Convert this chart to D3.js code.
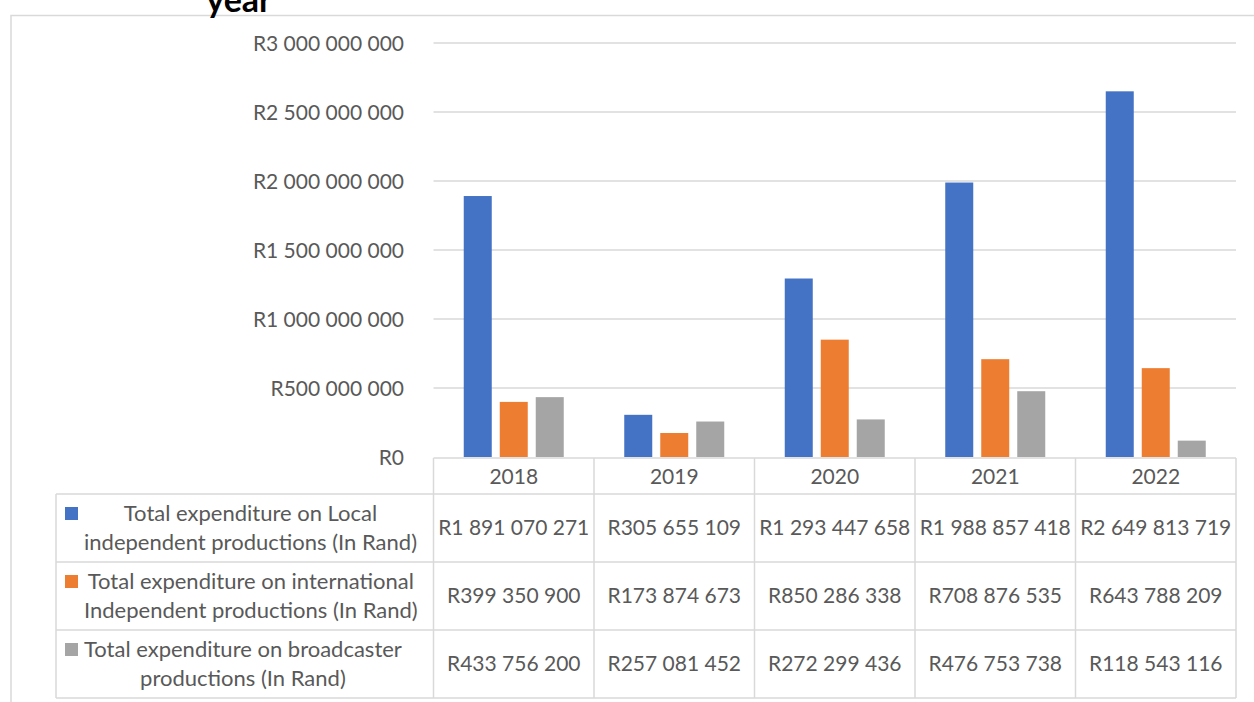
<!DOCTYPE html>
<html>
<head>
<meta charset="utf-8">
<script src="https://cdn.jsdelivr.net/npm/d3@7"></script>
<style>
  html, body { margin: 0; padding: 0; background: #fff; }
  svg { display: block; }
  text { font-family: Lato, "Open Sans", sans-serif; }
</style>
</head>
<body>
<svg id="chart" width="1254" height="702"></svg>
<script>
// ---- Data ----
const years = ["2018", "2019", "2020", "2021", "2022"];
const seriesNames = [
  ["Total expenditure on Local", "independent productions (In Rand)"],
  ["Total expenditure on international", "Independent productions (In Rand)"],
  ["Total expenditure on broadcaster", "productions (In Rand)"]
];
const localValues = [1891070271, 305655109, 1293447658, 1988857418, 2649813719];
const internationalValues = [399350900, 173874673, 850286338, 708876535, 643788209];
const broadcasterValues = [433756200, 257081452, 272299436, 476753738, 118543116];
const yTicks = [0, 500000000, 1000000000, 1500000000, 2000000000, 2500000000, 3000000000];
const seriesColors = ["#4472C4", "#ED7D31", "#A5A5A5"];
const titleText = "year";

const series = [localValues, internationalValues, broadcasterValues];

// ---- Layout ----
const svg = d3.select("#chart");
const plotLeft = 433.5, plotRight = 1236;
const yZero = 457, yTop = 43;
const tableLeft = 56;
const headerBottom = 494;
const rowH = 68;
const textColor = "#595959";
const lineColor = "#d9d9d9";
const fs = 21;
const legendFs = 22;

const fmt = v => "R" + d3.format(",")(v).replace(/,/g, " ");

// outer border
svg.append("path")
  .attr("d", `M11,702 V15.5 H1254`)
  .attr("fill", "none").attr("stroke", lineColor).attr("stroke-width", 1.5);

// title (partially visible, as in the reference)
svg.append("text")
  .attr("x", 239).attr("y", 12)
  .attr("text-anchor", "middle")
  .attr("font-size", 34).attr("font-weight", "bold")
  .attr("fill", "#000")
  .text(titleText);

const x = d3.scaleBand().domain(years).range([plotLeft, plotRight]).padding(0);
const y = d3.scaleLinear().domain([0, 3000000000]).range([yZero, yTop]);

// gridlines
svg.append("g").selectAll("line").data(yTicks.slice(1)).join("line")
  .attr("x1", plotLeft).attr("x2", plotRight)
  .attr("y1", d => y(d)).attr("y2", d => y(d))
  .attr("stroke", lineColor).attr("stroke-width", 1.5);

// y-axis labels using d3 axis
const yAxis = d3.axisLeft(y).tickValues(yTicks).tickFormat(fmt).tickSize(0).tickPadding(0);
const gy = svg.append("g").attr("transform", `translate(404,0)`).call(yAxis);
gy.select(".domain").remove();
gy.selectAll("text")
  .attr("font-family", "Lato, sans-serif")
  .attr("font-size", fs).attr("fill", textColor)
  .attr("dy", "0.35em");

// bars
const barW = 28, barStep = 36;
const groupW = barStep * 2 + barW;
series.forEach((vals, si) => {
  svg.append("g").selectAll("rect").data(vals).join("rect")
    .attr("x", (d, i) => x(years[i]) + x.bandwidth() / 2 - groupW / 2 + si * barStep)
    .attr("y", d => y(d))
    .attr("width", barW)
    .attr("height", d => yZero - y(d))
    .attr("fill", seriesColors[si]);
});

// table
const tbl = svg.append("g");
const tableBottom = headerBottom + rowH * 3;
tbl.append("line").attr("x1", plotLeft).attr("x2", plotRight)
  .attr("y1", yZero + 1).attr("y2", yZero + 1)
  .attr("stroke", lineColor).attr("stroke-width", 1.5);
[0, 1, 2, 3].forEach(r => {
  const yy = headerBottom + r * rowH;
  tbl.append("line").attr("x1", tableLeft).attr("x2", plotRight)
    .attr("y1", yy).attr("y2", yy)
    .attr("stroke", lineColor).attr("stroke-width", 1.5);
});
const colEdges = years.map(yv => x(yv)).concat([plotRight]);
colEdges.forEach(cx => {
  tbl.append("line").attr("x1", cx).attr("x2", cx)
    .attr("y1", yZero + 1).attr("y2", tableBottom)
    .attr("stroke", lineColor).attr("stroke-width", 1.5);
});
tbl.append("line").attr("x1", tableLeft).attr("x2", tableLeft)
  .attr("y1", headerBottom).attr("y2", tableBottom)
  .attr("stroke", lineColor).attr("stroke-width", 1.5);

// year headers
tbl.selectAll("text.year").data(years).join("text")
  .attr("class", "year")
  .attr("x", d => x(d) + x.bandwidth() / 2)
  .attr("y", (yZero + headerBottom) / 2 + 1)
  .attr("dy", "0.35em")
  .attr("text-anchor", "middle")
  .attr("font-size", fs).attr("fill", textColor)
  .text(d => d);

// values
series.forEach((vals, si) => {
  const cy = headerBottom + si * rowH + rowH / 2;
  tbl.append("g").selectAll("text").data(vals).join("text")
    .attr("x", (d, i) => x(years[i]) + x.bandwidth() / 2)
    .attr("y", cy)
    .attr("dy", "0.35em")
    .attr("text-anchor", "middle")
    .attr("font-size", fs).attr("fill", textColor)
    .text(d => fmt(d));
});

// legend cells
seriesNames.forEach((lines, si) => {
  const cy = headerBottom + si * rowH + rowH / 2;
  const g = tbl.append("g");
  const texts = lines.map((t, li) => g.append("text")
    .attr("y", cy + (li === 0 ? -14.5 : 14.5))
    .attr("dy", "0.35em")
    .attr("text-anchor", "middle")
    .attr("font-size", legendFs).attr("fill", textColor)
    .text(t));
  const maxW = d3.max(texts, t => t.node().getComputedTextLength());
  texts.forEach(t => t.attr("x", 84 + maxW / 2));
  g.append("rect")
    .attr("x", 65).attr("y", cy - 14.5 - 6.5)
    .attr("width", 13).attr("height", 13)
    .attr("fill", seriesColors[si]);
});
</script>
</body>
</html>
